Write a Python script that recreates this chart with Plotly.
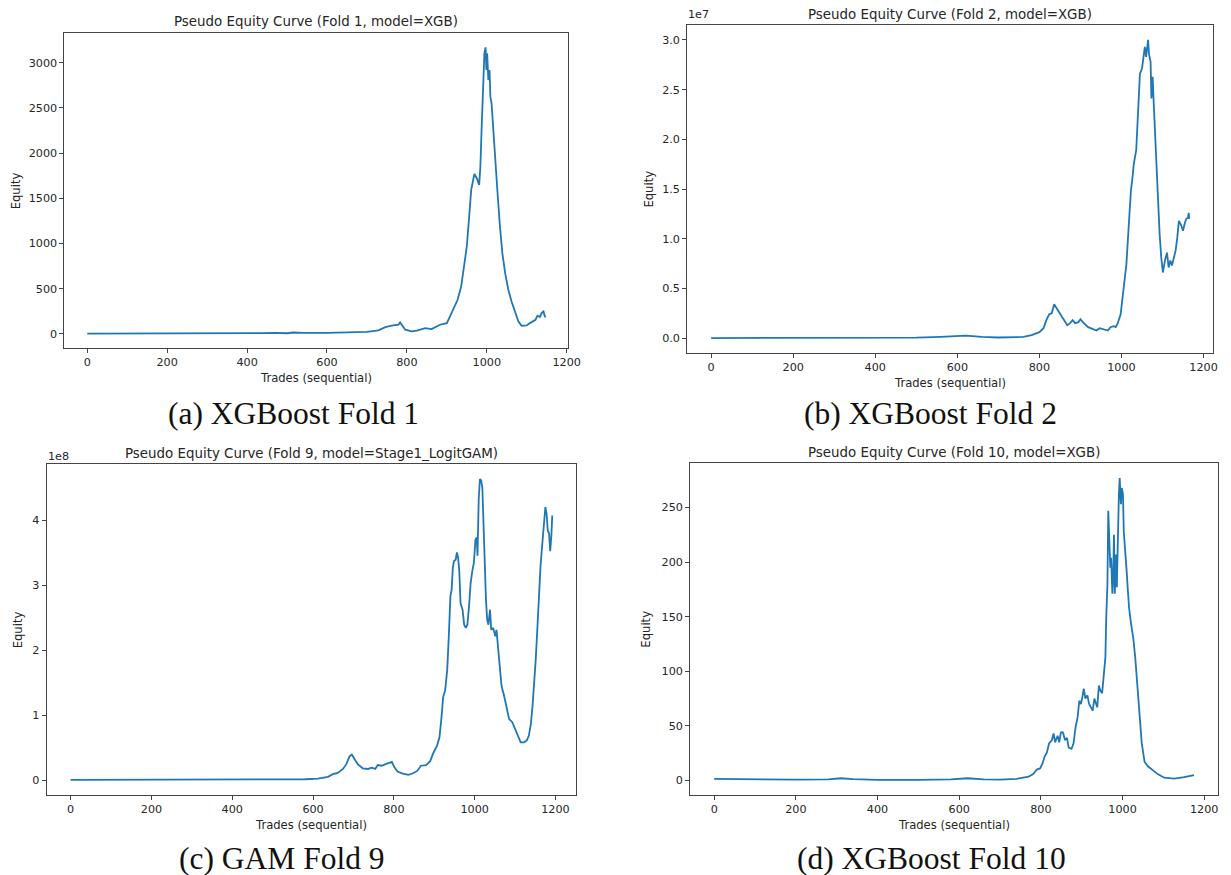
import plotly.graph_objects as go

# ---------------- data ----------------
# (a) Fold 1, XGB
a_x = [0, 100, 200, 300, 400, 440, 470, 500, 515, 540, 600, 650, 700, 729, 746, 762, 779, 783, 789, 796,
       812, 825, 846, 862, 883, 900, 908, 917, 927, 936, 942, 950, 956, 961, 969, 975, 981, 984, 987, 992,
       994, 997, 999, 1001, 1004, 1007, 1009, 1012, 1017, 1022, 1027, 1033, 1039, 1046, 1054, 1062, 1071,
       1079, 1087, 1100, 1108, 1117, 1122, 1127, 1133, 1137, 1142, 1144, 1147]
a_y = [1, 1, 2, 2, 4, 8, 11, 6, 14, 10, 9, 12, 22, 37, 74, 89, 100, 126, 82, 45,
       26, 34, 63, 52, 100, 118, 192, 284, 376, 524, 727, 966, 1298, 1593, 1770, 1722, 1648, 1851, 2256, 2809,
       3104, 3171, 2920, 3104, 2809, 2920, 2625, 2551, 2256, 1888, 1556, 1187, 893, 671, 487, 358, 247,
       137, 89, 93, 118, 137, 155, 200, 185, 229, 247, 211, 181]

# (b) Fold 2, XGB  (units of 1e7)
b_x = [0, 300, 500, 560, 600, 620, 660, 700, 761, 781, 800, 810, 818, 824, 830, 836, 842, 850, 858, 868,
       875, 881, 887, 895, 900, 908, 919, 931, 939, 947, 959, 967, 973, 981, 986, 991, 998, 1003, 1009, 1012,
       1017, 1023, 1027, 1030, 1036, 1040, 1045, 1050, 1054, 1057, 1060, 1062, 1065, 1067, 1071, 1073, 1076,
       1079, 1084, 1089, 1093, 1097, 1101, 1106, 1111, 1115, 1119, 1123, 1128, 1132, 1136, 1140, 1146, 1150,
       1154, 1158, 1162, 1164, 1165]
b_y = [0.0, 0.001, 0.005, 0.012, 0.025, 0.024, 0.012, 0.006, 0.012, 0.03, 0.06, 0.10, 0.19, 0.24, 0.25, 0.34, 0.30, 0.25, 0.19, 0.13,
       0.15, 0.18, 0.15, 0.16, 0.19, 0.15, 0.11, 0.086, 0.076, 0.10, 0.086, 0.076, 0.11, 0.12, 0.11, 0.15, 0.24, 0.42, 0.64, 0.74,
       1.08, 1.48, 1.62, 1.75, 1.89, 2.19, 2.66, 2.71, 2.86, 2.93, 2.83, 2.93, 3.00, 2.86, 2.78, 2.41, 2.63,
       2.33, 1.85, 1.35, 1.05, 0.81, 0.66, 0.78, 0.86, 0.71, 0.78, 0.73, 0.83, 0.88, 1.01, 1.18, 1.13, 1.08,
       1.15, 1.20, 1.21, 1.26, 1.20]

# (c) Fold 9, Stage1_LogitGAM  (units of 1e8)
c_x = [0, 200, 400, 500, 550, 580, 612, 637, 649, 661, 674, 682, 690, 696, 703, 711, 723, 736, 745, 754,
       760, 770, 778, 786, 795, 801, 809, 822, 836, 846, 858, 867, 880, 890, 898, 907, 913, 918, 922, 927,
       932, 936, 940, 943, 946, 949, 953, 956, 959, 962, 965, 970, 974, 978, 982, 986, 990, 994, 998, 1002,
       1005, 1007, 1010, 1013, 1016, 1019, 1021, 1024, 1028, 1031, 1034, 1038, 1041, 1046, 1051, 1054, 1058,
       1062, 1066, 1069, 1072, 1079, 1085, 1093, 1101, 1107, 1114, 1122, 1129, 1134, 1139, 1143, 1147, 1151,
       1155, 1159, 1163, 1168, 1172, 1175, 1178, 1181, 1184, 1187, 1190, 1192]
c_y = [0.001, 0.001, 0.002, 0.003, 0.006, 0.012, 0.02, 0.05, 0.09, 0.11, 0.17, 0.24, 0.36, 0.39, 0.32, 0.24, 0.18, 0.17, 0.19, 0.17,
       0.23, 0.22, 0.24, 0.26, 0.28, 0.20, 0.13, 0.10, 0.08, 0.10, 0.14, 0.22, 0.23, 0.29, 0.42, 0.53, 0.66, 0.97, 1.28, 1.38,
       1.69, 2.21, 2.83, 2.93, 3.27, 3.37, 3.39, 3.50, 3.42, 3.21, 2.72, 2.62, 2.39, 2.34, 2.39, 2.67, 3.03, 3.21, 3.34, 3.70,
       3.73, 3.45, 4.32, 4.63, 4.61, 4.50, 4.07, 3.45, 2.77, 2.46, 2.39, 2.62, 2.31, 2.34, 2.21, 2.31, 2.00,
       1.69, 1.48, 1.38, 1.32, 1.12, 0.94, 0.89, 0.76, 0.68, 0.58, 0.58, 0.61, 0.68, 0.86, 1.12, 1.43, 1.84,
       2.31, 2.83, 3.29, 3.68, 3.99, 4.20, 4.09, 3.83, 3.80, 3.52, 3.78, 4.07]

# (d) Fold 10, XGB
d_x = [0, 50, 100, 200, 280, 310, 340, 400, 500, 580, 620, 660, 700, 740, 770, 781, 790, 798, 804, 809,
       815, 820, 827, 831, 835, 841, 845, 849, 854, 859, 864, 868, 875, 880, 885, 890, 894, 898, 901, 905,
       909, 914, 918, 922, 927, 931, 935, 938, 942, 946, 950, 955, 958, 960, 963, 965, 967, 970, 972, 975,
       977, 979, 981, 984, 986, 989, 991, 993, 996, 998, 1001, 1003, 1007, 1010, 1013, 1016, 1021, 1026, 1031,
       1036, 1042, 1047, 1054, 1062, 1074, 1086, 1102, 1127, 1151, 1175]
d_y = [1.5, 1.2, 0.8, 0.7, 0.9, 2.0, 1.2, 0.5, 0.5, 1.0, 2.0, 1.0, 0.8, 1.5, 3.4, 5.9, 10, 11, 15.6, 21.7,
       26, 34, 37, 43, 35, 41, 35, 44, 44, 37, 39, 30, 29, 34, 49, 58, 73, 70, 75, 84,
       75, 78, 70, 67, 64, 75, 70, 67, 87, 82, 80, 104, 113, 149, 180, 247, 216, 195, 204, 171,
       186, 225, 171, 207, 177, 247, 262, 277, 253, 268, 262, 228, 210, 192, 174, 158, 143, 131, 113,
       88, 64, 34, 17, 13, 9.5, 5.8, 2.5, 1.6, 3.0, 4.9]

x_ticks = [0, 200, 400, 600, 800, 1000, 1200]
a_ticks = [0, 500, 1000, 1500, 2000, 2500, 3000]
b_ticks = [0.0, 0.5, 1.0, 1.5, 2.0, 2.5, 3.0]
c_ticks = [0, 1, 2, 3, 4]
d_ticks = [0, 50, 100, 150, 200, 250]

titles = ["Pseudo Equity Curve (Fold 1, model=XGB)",
          "Pseudo Equity Curve (Fold 2, model=XGB)",
          "Pseudo Equity Curve (Fold 9, model=Stage1_LogitGAM)",
          "Pseudo Equity Curve (Fold 10, model=XGB)"]
captions = ["(a) XGBoost Fold 1", "(b) XGBoost Fold 2", "(c) GAM Fold 9", "(d) XGBoost Fold 10"]
offsets = ["", "1e7", "1e8", ""]

for xs, ys in [(a_x, a_y), (b_x, b_y), (c_x, c_y), (d_x, d_y)]:
    assert len(xs) == len(ys)

# ---------------- layout ----------------
W, H = 1231, 875
FONT = "DejaVu Sans"
TXT = "#262626"
FRAME = "#444444"

# plot frames in pixels: left, top, right, bottom
boxes = [(65, 33, 574, 348), (694, 25, 1225, 353), (47, 464, 582, 795), (697, 463, 1230, 795)]
tickfmt = [None, ".1f", None, None]
yticks = [a_ticks, b_ticks, c_ticks, d_ticks]
data = [(a_x, a_y), (b_x, b_y), (c_x, c_y), (d_x, d_y)]
ylab_x = [16, 655, 18, 652]
cap_pos = [(296, 413), (940, 413), (285, 858), (941, 858)]
off_pos = [None, (705, 15), (59, 456), None]

fig = go.Figure()
layout = dict(width=W, height=H, margin=dict(l=0, r=0, t=0, b=0), autosize=False,
              paper_bgcolor="white", plot_bgcolor="white", showlegend=False,
              font=dict(family=FONT, size=11, color=TXT))
annotations = []


def pad(lo, hi):
    s = hi - lo
    return [lo - 0.05 * s, hi + 0.05 * s]


for i, ((xs, ys), (l, t, r, b)) in enumerate(zip(data, boxes)):
    n = "" if i == 0 else str(i + 1)
    fig.add_trace(go.Scatter(x=xs, y=ys, mode="lines", line=dict(color="#1f77b4", width=1.8),
                             xaxis="x" + n, yaxis="y" + n, hoverinfo="skip"))
    axstyle = dict(showline=True, mirror=True, linecolor=FRAME, linewidth=1, showgrid=False,
                   zeroline=False, ticks="outside", ticklen=4, tickwidth=1, tickcolor=FRAME,
                   tickfont=dict(family=FONT, size=11.2, color=TXT))
    layout["xaxis" + n] = dict(domain=[l / W, r / W], anchor="y" + n, range=pad(min(xs), max(xs)),
                               tickmode="array", tickvals=x_ticks, **axstyle)
    ydict = dict(domain=[1 - b / H, 1 - t / H], anchor="x" + n, range=pad(min(ys), max(ys)),
                 tickmode="array", tickvals=yticks[i], **axstyle)
    if tickfmt[i]:
        ydict["tickformat"] = tickfmt[i]
    layout["yaxis" + n] = ydict

    cx = (l + r) / 2
    # title
    annotations.append(dict(text=titles[i], x=cx / W, y=1 - (t - 11) / H, xref="paper", yref="paper",
                            xanchor="center", yanchor="middle", showarrow=False,
                            font=dict(family=FONT, size=13.4, color=TXT)))
    # x label
    annotations.append(dict(text="Trades (sequential)", x=cx / W, y=1 - (b + 30) / H, xref="paper",
                            yref="paper", xanchor="center", yanchor="middle", showarrow=False,
                            font=dict(family=FONT, size=11.6, color=TXT)))
    # y label
    annotations.append(dict(text="Equity", x=ylab_x[i] / W, y=1 - ((t + b) / 2) / H, xref="paper",
                            yref="paper", xanchor="center", yanchor="middle", textangle=-90,
                            showarrow=False, font=dict(family=FONT, size=11.6, color=TXT)))
    # caption
    px, py = cap_pos[i]
    annotations.append(dict(text=captions[i], x=px / W, y=1 - py / H, xref="paper", yref="paper",
                            xanchor="center", yanchor="middle", showarrow=False,
                            font=dict(family="Liberation Serif", size=31.5, color="#111111")))
    if offsets[i]:
        ox, oy = off_pos[i]
        annotations.append(dict(text=offsets[i], x=ox / W, y=1 - oy / H, xref="paper", yref="paper",
                                xanchor="center", yanchor="middle", showarrow=False,
                                font=dict(family=FONT, size=11.2, color=TXT)))

layout["annotations"] = annotations
fig.update_layout(**layout)
fig.write_html("out.html")
